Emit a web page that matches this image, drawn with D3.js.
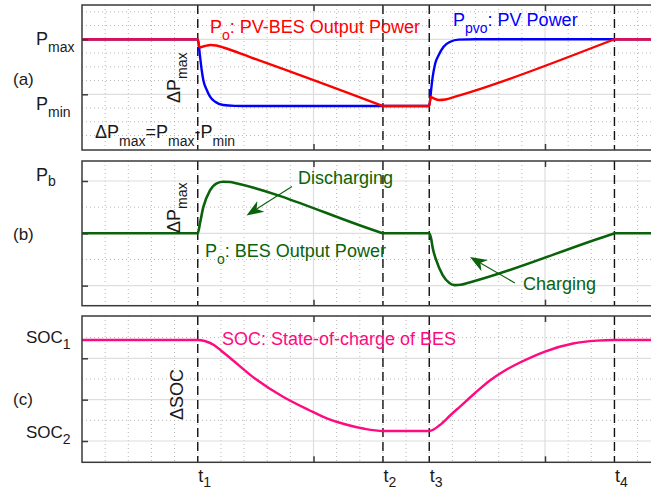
<!DOCTYPE html>
<html><head><meta charset="utf-8">
<script src="https://cdn.jsdelivr.net/npm/d3@7"></script>
<style>
html,body{margin:0;padding:0;background:#fff;}
svg{display:block;font-family:"Liberation Sans",Arial,Helvetica,sans-serif;}
</style></head><body>
<svg id="chart" width="651" height="491"></svg>
<script>
// ---------- data (time in grid units, values in panel units) ----------
const eventTimes = [5, 13, 15, 23];
const eventLabels = ["1", "2", "3", "4"];
const xMajorTicks = [0, 10, 20];
const xMinorTicks = [1,2,3,4,5,6,7,8,9,11,12,13,14,15,16,17,18,19,21,22,23,24];

// (a) PV power (blue) and PV-BES output power (red)
const pvPower = [[0,1.0],[5,1.0],[5.10,0.684],[5.17,0.442],[5.24,0.26],[5.39,0.078],[5.53,-0.044],
  [5.75,-0.135],[6.10,-0.195],[6.6,-0.21],[7.26,-0.213],[15,-0.213],[15.08,0.078],[15.15,0.32],
  [15.26,0.564],[15.41,0.715],[15.62,0.865],[15.91,0.956],[16.27,0.995],[17,1.0],[25,1.0]];
const pvBesPower = [[0,1.0],[5,1.0],[5.08,0.851],[5.3,0.878],[5.55,0.896],[5.8,0.887],[6.1,0.851],
  [7.26,0.678],[12.95,-0.205],[13,-0.213],[15,-0.213],[15.06,-0.049],[15.2,-0.076],[15.41,-0.104],
  [15.7,-0.095],[16.12,-0.044],[17.28,0.109],[22.95,0.992],[23,1.0],[25,1.0]];
// (b) BES output power (green)
const besPower = [[0,0],[5,0],[5.1,0.2],[5.24,0.5],[5.53,0.82],[5.82,0.955],[6.10,0.985],[6.39,0.98],
  [6.7,0.95],[12.95,0.007],[13,0],[15,0],[15.08,-0.1],[15.15,-0.28],[15.29,-0.5],[15.58,-0.8],
  [15.87,-0.95],[16.1,-0.99],[16.35,-0.985],[16.7,-0.945],[22.95,-0.007],[23,0],[25,0]];
// (c) state of charge (magenta)
const socValues = [[0,2.443],[5,2.443],[5.3,2.418],[5.7,2.322],[6.0,2.189],[6.4,2.007],[7.5,1.499],
  [8.7,1.064],[9.8,0.75],[10.6,0.544],[11.4,0.399],[12.2,0.295],[13,0.242],[15,0.242],[15.46,0.387],
  [15.90,0.617],[16.33,0.834],[16.98,1.161],[17.62,1.463],[18.27,1.705],[18.92,1.898],[20.0,2.164],
  [21.21,2.358],[22.25,2.428],[23,2.443],[25,2.443]];

// annotation arrows (panel b, data units): [from, to]
const dischargeArrow = [[9.07,0.895],[7.106,0.34]];
const chargeArrow = [[18.70,-0.95],[16.76,-0.453]];

// ---------- layout ----------
const svg = d3.select("#chart");
const x = d3.scaleLinear().domain([0, 25]).range([82, 660.75]);
const panels = [
  {key:"a", top:5, bottom:150, domain:[-1.013,1.624], major:[0,1], minor:[-0.75,-0.5,-0.25,0.25,0.5,0.75,1.25,1.5]},
  {key:"b", top:161, bottom:305.7, domain:[-1.384,1.382], major:[-1,0,1], minor:[-0.5,0.5]},
  {key:"c", top:316, bottom:462.3, domain:[-0.515,3.023], major:[0,1,2], minor:[0.5,1.5,2.5]}
];
const COL = {red:"#ff0000", blue:"#0000ff", overlap:"#d4145a", green:"#0a630a", magenta:"#ff0a7f", ink:"#1a1a1a"};

const defs = svg.append("defs");
panels.forEach(p => {
  p.y = d3.scaleLinear().domain(p.domain).range([p.bottom, p.top]);
  defs.append("clipPath").attr("id","clip-"+p.key).append("rect")
    .attr("x", x(0)).attr("y", p.top).attr("width", x(25)-x(0)).attr("height", p.bottom-p.top);
  const g = svg.append("g");
  p.g = g;
  // minor grid
  g.selectAll(null).data(xMinorTicks).join("line")
    .attr("x1", d=>x(d)).attr("x2", d=>x(d)).attr("y1", p.top).attr("y2", p.bottom)
    .attr("stroke","#b8b8b8").attr("stroke-width",1).attr("stroke-dasharray","1,3");
  g.selectAll(null).data(p.minor).join("line")
    .attr("x1", x(0)).attr("x2", x(25)).attr("y1", d=>p.y(d)).attr("y2", d=>p.y(d))
    .attr("stroke","#b8b8b8").attr("stroke-width",1).attr("stroke-dasharray","1,3");
  // major grid
  g.selectAll(null).data(xMajorTicks.slice(1)).join("line")
    .attr("x1", d=>x(d)).attr("x2", d=>x(d)).attr("y1", p.top).attr("y2", p.bottom)
    .attr("stroke","#dedede").attr("stroke-width",1.2);
  g.selectAll(null).data(p.major).join("line")
    .attr("x1", x(0)).attr("x2", x(25)).attr("y1", d=>p.y(d)).attr("y2", d=>p.y(d))
    .attr("stroke","#dedede").attr("stroke-width",1.2);
  // event lines
  g.selectAll(null).data(eventTimes).join("line")
    .attr("x1", d=>x(d)).attr("x2", d=>x(d)).attr("y1", p.top).attr("y2", p.bottom)
    .attr("stroke","#111").attr("stroke-width",1.4).attr("stroke-dasharray","9,5");
});

function drawLine(p, data, color, width) {
  const line = d3.line().x(d=>x(d[0])).y(d=>p.y(d[1])).curve(d3.curveMonotoneX);
  p.g.append("path").datum(data).attr("d", line).attr("fill","none")
    .attr("stroke", color).attr("stroke-width", width).attr("stroke-linejoin","round")
    .attr("clip-path","url(#clip-"+p.key+")");
}
const [pa, pb, pc] = panels;
drawLine(pa, pvPower, COL.blue, 2.4);
drawLine(pa, pvBesPower, COL.red, 2.4);
drawLine(pa, pvBesPower.filter(d=>d[0]<=eventTimes[0]), COL.overlap, 2.6);
drawLine(pa, pvBesPower.filter(d=>d[0]>=eventTimes[3]), COL.overlap, 2.6);
drawLine(pb, besPower, COL.green, 2.6);
drawLine(pc, socValues, COL.magenta, 2.4);

// arrows
function arrow(p, seg, color) {
  const [a, b] = seg;
  const x1 = x(a[0]), y1 = p.y(a[1]), x2 = x(b[0]), y2 = p.y(b[1]);
  const ang = Math.atan2(y2-y1, x2-x1);
  const L = 17, Wd = 6.5, notch = 12;
  const ux = Math.cos(ang), uy = Math.sin(ang), nx = -uy, ny = ux;
  p.g.append("line").attr("x1",x1).attr("y1",y1).attr("x2",x2-ux*notch).attr("y2",y2-uy*notch)
    .attr("stroke",color).attr("stroke-width",1.1);
  const pts = [[x2,y2],[x2-ux*L+nx*Wd, y2-uy*L+ny*Wd],[x2-ux*notch, y2-uy*notch],[x2-ux*L-nx*Wd, y2-uy*L-ny*Wd]];
  p.g.append("path").attr("d","M"+pts.map(q=>q.join(",")).join("L")+"Z").attr("fill",color);
}
arrow(pb, dischargeArrow, COL.green);
arrow(pb, chargeArrow, COL.green);

// borders and ticks
panels.forEach(p => {
  const g = p.g;
  g.append("rect").attr("x", x(0)).attr("y", p.top).attr("width", x(25)-x(0)).attr("height", p.bottom-p.top)
    .attr("fill","none").attr("stroke","#3a3a3a").attr("stroke-width",1.5);
  const left = g.append("g").attr("transform",`translate(${x(0)},0)`)
    .call(d3.axisRight(p.y).tickValues(p.major).tickSize(6).tickFormat(""));
  const top = g.append("g").attr("transform",`translate(0,${p.top})`)
    .call(d3.axisBottom(x).tickValues(xMajorTicks.slice(1)).tickSize(6).tickFormat(""));
  const bot = g.append("g").attr("transform",`translate(0,${p.bottom})`)
    .call(d3.axisTop(x).tickValues(xMajorTicks.slice(1)).tickSize(6).tickFormat(""));
  [left, top, bot].forEach(a => {
    a.select(".domain").remove();
    a.selectAll("line").attr("stroke","#3a3a3a").attr("stroke-width",1.5);
  });
});

// ---------- texts ----------
function richText(px, py, parts, opt) {
  opt = opt || {};
  const t = svg.append("text").attr("x", px).attr("y", py)
    .attr("fill", opt.color || COL.ink).attr("font-size", opt.size || 18);
  if (opt.rotate) t.attr("transform", `rotate(${opt.rotate},${px},${py})`);
  let level = 0;
  parts.forEach(([s, sub]) => {
    const target = sub ? (opt.dy || 7) : 0;
    const ts = t.append("tspan").text(s).attr("dy", target - level);
    if (sub) ts.attr("font-size", opt.sub || 14);
    level = target;
  });
  return t;
}
// y labels
richText(36, 45, [["P",0],["max",1]]);
richText(36, 110, [["P",0],["min",1]]);
richText(36, 181, [["P",0],["b",1]], {dy:5});
richText(26, 343, [["SOC",0],["1",1]], {size:17, dy:6});
richText(26, 438, [["SOC",0],["2",1]], {size:17, dy:6});
richText(13, 85, [["(a)",0]], {size:17});
richText(13, 240, [["(b)",0]], {size:17});
richText(13, 405, [["(c)",0]], {size:17});
// panel (a)
richText(95, 138, [["ΔP",0],["max",1],["=P",0],["max",1],["-P",0],["min",1]], {dy:8});
richText(180, 103, [["ΔP",0],["max",1]], {rotate:-90});
richText(210, 33, [["P",0],["o",1],[": PV-BES Output Power",0]], {color:COL.red});
richText(453, 26, [["P",0],["pvo",1],[": PV Power",0]], {color:COL.blue});
// panel (b)
richText(180, 233, [["ΔP",0],["max",1]], {rotate:-90});
richText(205, 257, [["P",0],["o",1],[": BES Output Power",0]], {color:COL.green});
richText(298, 184, [["Discharging",0]], {color:COL.green});
richText(523, 290, [["Charging",0]], {color:COL.green});
// panel (c)
richText(183, 420, [["ΔSOC",0]], {rotate:-90});
richText(222, 345, [["SOC: State-of-charge of BES",0]], {color:COL.magenta});
// time labels
eventTimes.forEach((t, i) => {
  richText(x(t)+0.5, 482, [["t",0],[eventLabels[i],1]], {dy:5});
});
</script>
</body></html>
